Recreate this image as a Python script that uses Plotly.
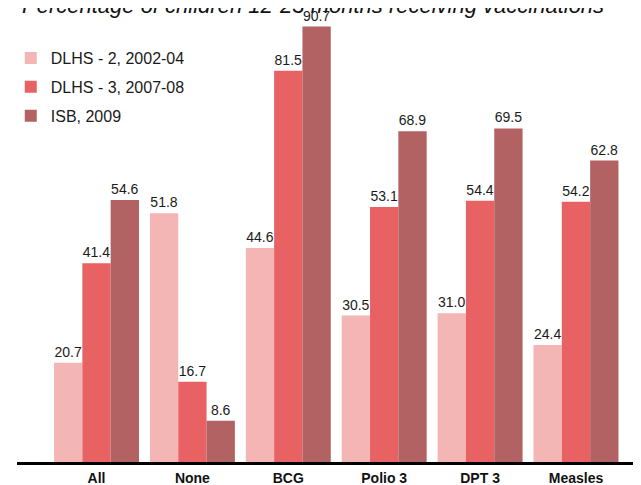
import plotly.graph_objects as go

categories = ["All", "None", "BCG", "Polio 3", "DPT 3", "Measles"]
series_names = ["DLHS - 2, 2002-04", "DLHS - 3, 2007-08", "ISB, 2009"]
dlhs2 = [20.7, 51.8, 44.6, 30.5, 31.0, 24.4]
dlhs3 = [41.4, 16.7, 81.5, 53.1, 54.4, 54.2]
isb = [54.6, 8.6, 90.7, 68.9, 69.5, 62.8]
colors = ["#F4B5B5", "#E86264", "#B26262"]
title_text = "Percentage of children 12-23 months receiving vaccinations"

fig = go.Figure()
for name, vals, col in zip(series_names, [dlhs2, dlhs3, isb], colors):
    fig.add_trace(go.Bar(
        x=categories, y=vals, name=name, legendgroup=name,
        marker=dict(color=col, line=dict(width=0)),
        texttemplate="%{y:.1f}", textposition="outside",
        textfont=dict(family="Liberation Sans, Arial, sans-serif", size=14, color="#1a1a1a"),
        constraintext="none", cliponaxis=False, hoverinfo="skip",
    ))

fig.update_layout(
    width=641, height=485,
    margin=dict(l=9, r=8, t=0, b=31),
    barmode="group", bargap=0.114, bargroupgap=0,
    plot_bgcolor="white", paper_bgcolor="white",
    font=dict(family="Liberation Sans, Arial, sans-serif", color="#1a1a1a"),
    showlegend=True,
    legend=dict(x=-0.01, y=0.927, xanchor="left", yanchor="top",
                font=dict(size=16, color="#1a1a1a"), tracegroupgap=5,
                bgcolor="rgba(0,0,0,0)", itemclick=False),
    xaxis=dict(range=[-0.829, 5.678], showline=True, linecolor="black", linewidth=2.5,
               ticks="", showgrid=False, zeroline=False, ticklabelstandoff=1,
               tickfont=dict(size=14, weight="bold", color="#111"), fixedrange=True),
    yaxis=dict(range=[0, 94.58], visible=False, showgrid=False, zeroline=False, fixedrange=True),
    annotations=[dict(text="<i>" + title_text + "</i>", xref="paper", yref="paper",
                      x=0.474, y=1.0066, xanchor="center", yanchor="middle", showarrow=False,
                      font=dict(size=22, color="#111"))],
)

fig.write_html("out.html")
